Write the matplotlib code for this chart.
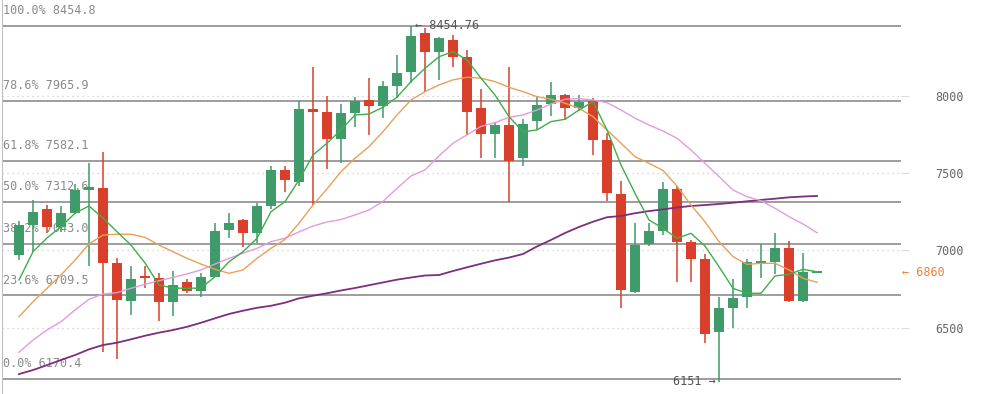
import matplotlib.pyplot as plt

# OHLC (58 sessions)
opens = [6973, 7163, 7268, 7154, 7243, 7393, 7402, 6917, 6673, 6830,
         6820, 6668, 6794, 6740, 6830, 7134, 7197, 7115, 7290, 7521,
         7445, 7916, 7896, 7722, 7892, 7974, 7937, 8067, 8157, 8406,
         8287, 8363, 8251, 7920, 7752, 7810, 7597, 7840, 7946, 8006,
         7920, 7970, 7715, 7366, 6729, 7040, 7128, 7396, 7053, 6945,
         6474, 6629, 6697, 6919, 6927, 7016, 6675, 6856]
highs = [7193, 7327, 7294, 7288, 7430, 7564, 7637, 6953, 6899, 6899,
         6852, 6869, 6813, 6852, 7176, 7241, 7204, 7305, 7547, 7549,
         7968, 8190, 8000, 7948, 7995, 8115, 8097, 8265, 8454.76, 8440,
         8380, 8395, 8298, 8045, 7834, 8190, 7849, 8000, 8093, 8010,
         8006, 7985, 7759, 7450, 7176, 7176, 7445, 7417, 7068, 6975,
         6701, 6817, 6945, 7040, 7115, 7063, 6986, 6863]
lows = [6938, 6992, 7115, 7121, 7236, 6901, 6345, 6299, 6584, 6759,
        6545, 6578, 6727, 6697, 6825, 7081, 7020, 7050, 7266, 7380,
        7419, 7294, 7527, 7568, 7801, 7748, 7860, 7985, 8086, 8028,
        8104, 8190, 7748, 7601, 7601, 7316, 7549, 7780, 7872, 7845,
        7905, 7618, 7322, 6629, 6723, 7031, 7100, 6798, 6798, 6403,
        6151, 6500, 6626, 6820, 6846, 6668, 6668, 6855]
closes = [7163, 7249, 7154, 7241, 7391, 7409, 6921, 6679, 6815, 6824,
          6668, 6774, 6740, 6828, 7126, 7176, 7115, 7288, 7521, 7456,
          7916, 7896, 7722, 7888, 7968, 7937, 8065, 8151, 8388, 8287,
          8374, 8254, 7898, 7752, 7810, 7581, 7817, 7942, 8005, 7920,
          7963, 7715, 7370, 6744, 7035, 7126, 7396, 7057, 6945, 6457,
          6627, 6694, 6923, 6925, 7016, 6675, 6863, 6860]

# moving averages as drawn on the chart
ma5 = [6809, 6992, 7081, 7154, 7241, 7288, 7210, 7121, 7035, 6919,
       6776, 6757, 6755, 6757, 6830, 6927, 6992, 7079, 7251, 7316,
       7456, 7618, 7694, 7780, 7877, 7883, 7927, 7992, 8093, 8179,
       8254, 8287, 8233, 8115, 8006, 7866, 7769, 7780, 7834, 7849,
       7909, 7963, 7780, 7553, 7370, 7197, 7143, 7079, 7111, 7029,
       6895, 6755, 6723, 6723, 6835, 6846, 6878, 6862]
ma10 = [6571, 6668, 6755, 6841, 6938, 7042, 7100, 7105, 7105, 7085,
        7035, 6992, 6949, 6912, 6878, 6852, 6874, 6949, 7014, 7071,
        7176, 7294, 7398, 7510, 7597, 7672, 7769, 7877, 7974, 8028,
        8071, 8104, 8121, 8115, 8093, 8056, 8028, 7995, 7979, 7953,
        7920, 7866, 7780, 7694, 7607, 7564, 7518, 7417, 7294, 7186,
        7057, 6960, 6910, 6917, 6917, 6874, 6820, 6794]
ma20 = [6341, 6420, 6485, 6539, 6615, 6684, 6718, 6727, 6755, 6781,
        6804, 6826, 6848, 6874, 6912, 6949, 6982, 7014, 7057, 7079,
        7120, 7158, 7184, 7200, 7230, 7262, 7317, 7402, 7482, 7521,
        7612, 7694, 7748, 7803, 7827, 7862, 7877, 7909, 7948, 7979,
        7983, 7974, 7957, 7909, 7856, 7812, 7773, 7726, 7650, 7564,
        7478, 7391, 7348, 7322, 7273, 7219, 7171, 7115]
ma60 = [6200, 6226, 6258, 6291, 6323, 6360, 6388, 6403, 6425, 6448,
        6468, 6485, 6506, 6532, 6561, 6589, 6610, 6629, 6642, 6662,
        6690, 6707, 6723, 6741, 6757, 6775, 6793, 6811, 6825, 6838,
        6841, 6867, 6891, 6914, 6936, 6954, 6977, 7026, 7068, 7113,
        7152, 7186, 7215, 7223, 7241, 7255, 7266, 7278, 7288, 7294,
        7301, 7309, 7318, 7327, 7335, 7344, 7349, 7353]

fib_pct = ["100.0%", "78.6%", "61.8%", "50.0%", "38.2%", "23.6%", "0.0%"]
fib_levels = [8454.8, 7965.9, 7582.1, 7312.6, 7043.0, 6709.5, 6170.4]
price_ticks = [6500, 7000, 7500, 8000]
peak_idx, peak_val = 28, 8454.76
low_idx, low_val = 50, 6151
last_price = 6860

UP = "#3f9b69"
DOWN = "#d8402b"

plt.rcParams['font.family'] = ['DejaVu Sans Mono', 'DejaVu Sans']

fig = plt.figure(figsize=(9.83, 3.94), dpi=100)
ax = fig.add_axes([2 / 983, 0, 899 / 983, 1])
ax.set_xlim(-1.214, 63)
ax.set_ylim(6071, 8621)

# grid + right axis
ax.yaxis.tick_right()
ax.set_yticks(price_ticks)
ax.set_yticklabels([str(t) for t in price_ticks])
ax.tick_params(axis='y', length=6, color='#dddddd', pad=19, labelsize=8.5,
               labelcolor='#666666')
ax.set_xticks([])
ax.grid(axis='y', linestyle=(0, (1, 3)), color='#cccccc', linewidth=0.9)
for side in ['top', 'right', 'bottom']:
    ax.spines[side].set_visible(False)
ax.spines['left'].set_color('#c0c0c0')

# fibonacci retracement lines
for pct, lvl in zip(fib_pct, fib_levels):
    ax.axhline(lvl, color='#8c8c8c', linewidth=1.2, zorder=1)
    ax.annotate(f"{pct} {lvl:.1f}", xy=(0, lvl), xycoords=('axes fraction', 'data'),
                xytext=(1, 11), textcoords='offset points', va='center', ha='left',
                fontsize=8.5, color='#8a8a8a', zorder=1)

# candles
xs = list(range(len(opens)))
for i in xs:
    o, h, l, c = opens[i], highs[i], lows[i], closes[i]
    col = UP if c >= o else DOWN
    ax.vlines(i, l, h, color=col, linewidth=1.1, zorder=3)
    bottom = min(o, c)
    height = max(abs(c - o), 12)
    ax.bar(i, height, bottom=bottom, width=0.78, color=col, linewidth=0, zorder=4)

# moving averages
ax.plot(xs, ma60, color='#7d2e7d', linewidth=1.3, zorder=5)
ax.plot(xs, ma20, color='#e39be0', linewidth=1.0, zorder=5)
ax.plot(xs, ma10, color='#e9a057', linewidth=1.0, zorder=5)
ax.plot(xs, ma5, color='#3fae4a', linewidth=1.0, zorder=5)

# labels for extremes and last price
ax.annotate(f"\u2190 {peak_val}", xy=(peak_idx, peak_val), xytext=(3, 0),
            textcoords='offset points', ha='left', va='center', fontsize=8.5,
            color='#555555', zorder=6)
ax.annotate(f"{low_val} \u2192", xy=(low_idx, low_val), xytext=(-2, 0),
            textcoords='offset points', ha='right', va='center', fontsize=8.5,
            color='#555555', zorder=6)
ax.annotate(f"\u2190 {last_price}", xy=(1, last_price), xycoords=('axes fraction', 'data'),
            xytext=(1, 0), textcoords='offset points', ha='left', va='center',
            fontsize=8.5, color='#ef7f3a', annotation_clip=False)

fig.savefig("out.png", dpi=100, facecolor='white')
